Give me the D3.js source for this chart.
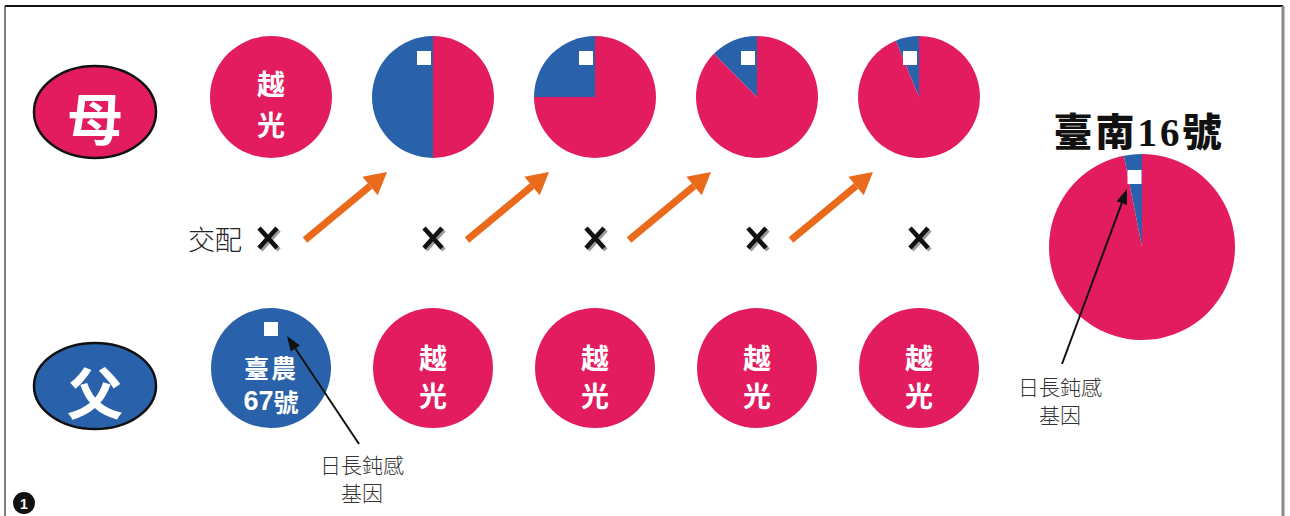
<!DOCTYPE html>
<html><head><meta charset="utf-8">
<script src="https://cdn.jsdelivr.net/npm/d3@7"></script>
<style>
html,body{margin:0;padding:0;background:#fff;}
svg{display:block;}
</style></head>
<body>
<svg id="chart" width="1290" height="516"></svg>
<script>
// ---- data ----
const generations = [0, 1, 2, 3, 4];                 // backcross steps
const motherDonorShare = [0, 50, 25, 12.5, 6.25];    // % of 臺農67號 genome in mother
const motherLabels = ["越光", "", "", "", ""];
const fatherDonorShare = [100, 0, 0, 0, 0];          // % of 臺農67號 genome in father
const fatherLabels = [["臺農", "67號"], ["越", "光"], ["越", "光"], ["越", "光"], ["越", "光"]];
const finalName = "臺南16號";
const finalDonorShare = [3.125];
const rowLabels = ["母", "父"];
const crossLabel = "交配";
const geneLabel = ["日長鈍感", "基因"];

const PINK = "#E31C5F", BLUE = "#2962AA", ORANGE = "#EA6A1C";

const svg = d3.select("#chart");

// border
svg.append("line").attr("x1",5).attr("y1",6).attr("x2",1283).attr("y2",6).attr("stroke","#111").attr("stroke-width",2);
svg.append("line").attr("x1",5).attr("y1",6).attr("x2",5).attr("y2",516).attr("stroke","#555").attr("stroke-width",1.5);
svg.append("line").attr("x1",1283).attr("y1",6).attr("x2",1283).attr("y2",516).attr("stroke","#8a8a8a").attr("stroke-width",3);

const x = d3.scalePoint().domain(generations).range([271, 919]);
const rowY = d3.scalePoint().domain(rowLabels).range([97, 368]);
const R = 61;

const pie = b => d3.pie().sort(null).value(d => d.v)
  .startAngle(-b / 100 * 2 * Math.PI).endAngle(2 * Math.PI - b / 100 * 2 * Math.PI);
const arc = r => d3.arc().innerRadius(0).outerRadius(r);

function drawPie(g, share, r, sq) {
  const data = [{v: share, c: BLUE}, {v: 100 - share, c: PINK}];
  g.selectAll("path.s").data(pie(share)(data)).enter().append("path")
    .attr("class","s").attr("d", arc(r)).attr("fill", d => d.data.c);
  if (share > 0 && sq) {
    g.append("rect").attr("x", sq[0] - 7).attr("y", sq[1] - 7).attr("width", 14).attr("height", 14).attr("fill", "#fff");
  }
}

// row ellipses
const ellipseY = {"母": 112, "父": 386};
rowLabels.forEach((lab, i) => {
  const g = svg.append("g").attr("transform", `translate(95,${ellipseY[lab]})`);
  g.append("ellipse").attr("rx", 61).attr("ry", i === 0 ? 46 : 43)
    .attr("fill", i === 0 ? PINK : BLUE).attr("stroke", "#111").attr("stroke-width", 2.5);
  g.append("text").text(lab).attr("x", 0).attr("y", 3).attr("text-anchor", "middle")
    .attr("dominant-baseline", "central").attr("fill", "#fff")
    .attr("font-family", "'Noto Sans CJK TC'").attr("font-weight", 700).attr("font-size", 56);
});

// mother row
generations.forEach(i => {
  const g = svg.append("g").attr("transform", `translate(${x(i)},${rowY("母")})`);
  drawPie(g, motherDonorShare[i], R, [-9, -39]);
  const lab = motherLabels[i];
  if (lab) {
    [...lab].forEach((ch, k) => g.append("text").text(ch).attr("x", 0).attr("y", k === 0 ? -14 : 27)
      .attr("text-anchor", "middle").attr("dominant-baseline", "central").attr("fill", "#fff")
      .attr("font-family", "'Noto Sans CJK TC'").attr("font-weight", 700).attr("font-size", 28));
  }
});

// father row
generations.forEach(i => {
  const g = svg.append("g").attr("transform", `translate(${x(i)},${rowY("父")})`);
  const share = fatherDonorShare[i];
  g.append("circle").attr("r", R - 1).attr("fill", share >= 100 ? BLUE : PINK);
  if (share >= 100) {
    g.append("rect").attr("x", -7).attr("y", -46).attr("width", 14).attr("height", 14).attr("fill", "#fff");
    const lines = fatherLabels[i];
    g.append("text").text(lines[0]).attr("x", 0).attr("y", -1).attr("text-anchor", "middle")
      .attr("dominant-baseline", "central").attr("fill", "#fff")
      .attr("font-family", "'Noto Sans CJK TC'").attr("font-weight", 700).attr("font-size", 25).attr("letter-spacing", 2);
    const t = g.append("text").attr("x", 0).attr("y", 33).attr("text-anchor", "middle")
      .attr("dominant-baseline", "central").attr("fill", "#fff").attr("font-weight", 700);
    t.append("tspan").text(lines[1].slice(0, 2)).attr("font-family", "'Liberation Sans', Arial").attr("font-size", 27);
    t.append("tspan").text(lines[1].slice(2)).attr("font-family", "'Noto Sans CJK TC'").attr("font-size", 25);
  } else {
    const lines = fatherLabels[i];
    lines.forEach((ch, k) => g.append("text").text(ch).attr("x", 0).attr("y", k === 0 ? -11 : 27)
      .attr("text-anchor", "middle").attr("dominant-baseline", "central").attr("fill", "#fff")
      .attr("font-family", "'Noto Sans CJK TC'").attr("font-weight", 700).attr("font-size", 28));
  }
});

// cross marks
const crossY = 238;
svg.append("text").text(crossLabel).attr("x", 215).attr("y", crossY).attr("text-anchor", "middle")
  .attr("dominant-baseline", "central").attr("fill", "#222")
  .attr("font-family", "'Noto Sans CJK TC'").attr("font-weight", 300).attr("font-size", 27);
generations.forEach(i => {
  const g = svg.append("g").attr("transform", `translate(${x(i) - (i === 0 ? 3 : 0)},${crossY})`);
  const p = "M-9,-10L9,10M9,-10L-9,10";
  g.append("path").attr("d", p).attr("transform", "translate(2,2)").attr("stroke", "#9a9a9a").attr("stroke-width", 4.5).attr("fill", "none");
  g.append("path").attr("d", p).attr("stroke", "#111").attr("stroke-width", 4.5).attr("fill", "none");
});

// orange arrows
function fatArrow(x1, y1, x2, y2, color, w, hl, hw) {
  const a = Math.atan2(y2 - y1, x2 - x1);
  const bx = x2 - hl * Math.cos(a), by = y2 - hl * Math.sin(a);
  svg.append("line").attr("x1", x1).attr("y1", y1).attr("x2", bx).attr("y2", by)
    .attr("stroke", color).attr("stroke-width", w);
  const px = -Math.sin(a), py = Math.cos(a);
  svg.append("path").attr("d", `M${x2},${y2}L${bx + px * hw / 2},${by + py * hw / 2}L${bx - px * hw / 2},${by - py * hw / 2}Z`)
    .attr("fill", color);
}
generations.slice(0, -1).forEach(i => {
  fatArrow(x(i) + 34, crossY + 2, x(i + 1) - 46, 172, ORANGE, 7, 22, 24);
});

// final pie
const fx = 1142, fy = 247, fr = 93;
svg.append("text").text(finalName).attr("x", 1139).attr("y", 132).attr("text-anchor", "middle")
  .attr("dominant-baseline", "central").attr("fill", "#111").attr("letter-spacing", 3)
  .attr("font-family", "'Liberation Serif', 'Noto Sans CJK TC'").attr("font-weight", 900).attr("font-size", 39);
const fg = svg.append("g").attr("transform", `translate(${fx},${fy})`);
drawPie(fg, finalDonorShare[0], fr, [-7.5, -70]);

// black annotation arrows + labels
function thinArrow(x1, y1, x2, y2) {
  const a = Math.atan2(y2 - y1, x2 - x1), hl = 15, hw = 11;
  const bx = x2 - hl * Math.cos(a), by = y2 - hl * Math.sin(a);
  svg.append("line").attr("x1", x1).attr("y1", y1).attr("x2", bx).attr("y2", by).attr("stroke", "#111").attr("stroke-width", 2);
  const px = -Math.sin(a), py = Math.cos(a);
  svg.append("path").attr("d", `M${x2},${y2}L${bx + px * hw / 2},${by + py * hw / 2}L${bx - px * hw / 2},${by - py * hw / 2}Z`).attr("fill", "#111");
}
function geneText(cx, y0) {
  geneLabel.forEach((t, k) => svg.append("text").text(t).attr("x", cx).attr("y", y0 + k * 28)
    .attr("text-anchor", "middle").attr("dominant-baseline", "central").attr("fill", "#333")
    .attr("font-family", "'Noto Sans CJK TC'").attr("font-weight", 300).attr("font-size", 21));
}
thinArrow(359, 444, 287, 336);
geneText(362, 464);
thinArrow(1062, 364, 1127, 189);
geneText(1060, 386);

// circled number
svg.append("circle").attr("cx", 24).attr("cy", 503).attr("r", 11).attr("fill", "#111");
svg.append("text").text("1").attr("x", 24).attr("y", 504).attr("text-anchor", "middle")
  .attr("dominant-baseline", "central").attr("fill", "#fff")
  .attr("font-family", "'Liberation Sans', Arial").attr("font-weight", 700).attr("font-size", 14);
</script>
</body></html>
